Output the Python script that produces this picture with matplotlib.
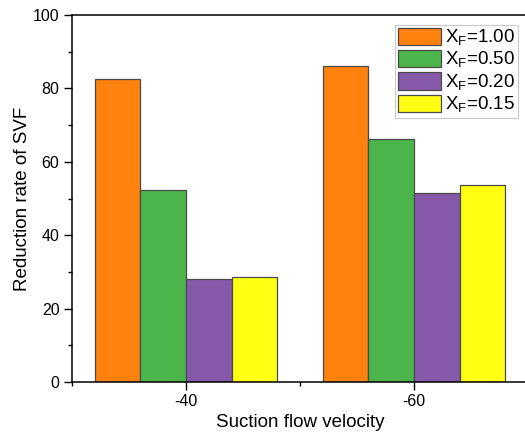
import matplotlib
matplotlib.use("Agg")
import matplotlib.pyplot as plt
import numpy as np
from matplotlib.ticker import MultipleLocator

plt.rcParams['font.family'] = ['Liberation Sans', 'DejaVu Sans']
plt.rcParams['mathtext.fontset'] = 'custom'
plt.rcParams['mathtext.rm'] = 'Liberation Sans'

# data
velocities = ["-40", "-60"]
series_labels = ["X$_\\mathrm{F}$=1.00", "X$_\\mathrm{F}$=0.50",
                 "X$_\\mathrm{F}$=0.20", "X$_\\mathrm{F}$=0.15"]
xf_100 = [82.6, 86.0]
xf_050 = [52.2, 66.3]
xf_020 = [28.1, 51.6]
xf_015 = [28.6, 53.6]
colors = ["#FF820E", "#4BB54B", "#8659AB", "#FFFF14"]

fig = plt.figure(figsize=(5.25, 4.34), dpi=100)
ax = fig.add_axes([72/525, 52/434, 456/525, 367/434])

x = np.arange(len(velocities))
w = 0.2
for i, (vals, lab, col) in enumerate(zip([xf_100, xf_050, xf_020, xf_015], series_labels, colors)):
    ax.bar(x + (i - 1.5) * w, vals, w, color=col, edgecolor="#4a4a4a", linewidth=0.9, label=lab)

ax.set_xlim(-0.5, 1.5)
ax.set_ylim(0, 100)
ax.set_xticks(x)
ax.set_xticklabels(velocities)
ax.xaxis.set_minor_locator(MultipleLocator(0.5))
ax.yaxis.set_major_locator(MultipleLocator(20))
ax.yaxis.set_minor_locator(MultipleLocator(10))
ax.tick_params(which="major", direction="out", length=5.5, width=1, labelsize=11.5)
ax.tick_params(which="minor", direction="out", length=3, width=1)
for s in ax.spines.values():
    s.set_linewidth(1.1)

ax.set_xlabel("Suction flow velocity", fontsize=13.5, labelpad=3)
ax.set_ylabel("Reduction rate of SVF", fontsize=13.5, labelpad=1.5)

leg = ax.legend(loc="upper right", bbox_to_anchor=((518 - 72) / 456, 1 - (25 - 15) / 367),
                fontsize=13.5, frameon=True, fancybox=False, borderpad=0.15,
                handlelength=2.3, handleheight=1.05, labelspacing=0.1,
                handletextpad=0.2, borderaxespad=0)
leg.get_frame().set_edgecolor("#bbbbbb")
leg.get_frame().set_linewidth(0.8)

fig.savefig("out.png", dpi=100)
